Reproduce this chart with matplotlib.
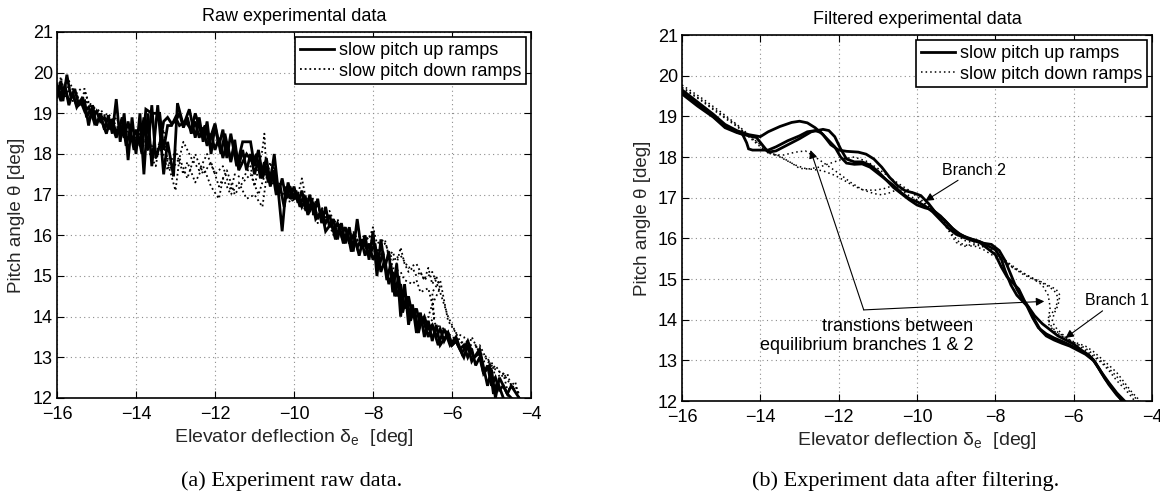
import matplotlib
matplotlib.use("Agg")
import matplotlib.pyplot as plt

plt.rcParams['font.family'] = ['Liberation Sans', 'DejaVu Sans']
plt.rcParams['mathtext.default'] = 'regular'
plt.rcParams['axes.unicode_minus'] = True

# ---------------- data: raw experiment (panel a) ----------------
raw_up1_x = [-16.0, -15.9, -15.85, -15.75, -15.65, -15.55, -15.45, -15.3, -15.2, -15.1, -15.0, -14.9, -14.8, -14.7,
             -14.6, -14.5, -14.4, -14.3, -14.2, -14.1, -14.0, -13.9, -13.8, -13.7, -13.6, -13.45, -13.3, -13.2,
             -13.05, -12.95, -12.8, -12.65, -12.5, -12.4, -12.3, -12.2, -12.1, -12.0, -11.9, -11.8, -11.7, -11.6,
             -11.45, -11.3, -11.1, -11.0, -10.9, -10.8, -10.7, -10.6, -10.5, -10.4, -10.3, -10.2, -10.1, -10.0,
             -9.9, -9.8, -9.7, -9.6, -9.5, -9.4, -9.3, -9.2, -9.1, -9.0, -8.9, -8.8, -8.7, -8.6, -8.5, -8.4, -8.3,
             -8.2, -8.1, -8.0, -7.9, -7.8, -7.7, -7.6, -7.5, -7.4, -7.3, -7.2, -7.1, -7.0, -6.9, -6.8, -6.7, -6.6,
             -6.5, -6.4, -6.3, -6.1, -6.0, -5.9, -5.7, -5.6, -5.5, -5.3, -5.1, -5.0, -4.9, -4.8, -4.6, -4.5, -4.3]
raw_up1_y = [19.4, 19.8, 19.3, 19.95, 19.4, 19.6, 19.2, 19.3, 18.7, 19.2, 18.7, 19.0, 18.6, 18.95,
             18.5, 19.35, 18.3, 19.0, 17.85, 18.9, 18.0, 19.0, 17.5, 19.0, 17.7, 19.2, 17.5, 18.3,
             17.45, 19.25, 18.7, 19.1, 18.4, 18.9, 18.3, 18.8, 18.0, 18.7, 18.2, 18.6, 17.9, 18.5,
             17.7, 18.3, 18.3, 17.7, 18.1, 17.5, 17.9, 17.3, 18.0, 17.1, 16.1, 17.2, 16.9, 17.2,
             16.8, 17.1, 16.6, 17.0, 16.5, 16.9, 16.3, 16.7, 16.2, 16.4, 15.9, 16.3, 15.8, 16.2, 15.6, 16.4, 15.7,
             16.0, 15.4, 16.1, 15.0, 15.9, 15.2, 15.6, 14.6, 15.3, 14.0, 14.8, 13.8, 14.3, 13.6, 14.1, 13.5, 13.9,
             13.4, 13.8, 13.3, 13.6, 13.3, 13.4, 13.0, 13.3, 12.9, 13.2, 12.3, 12.7, 12.0, 12.5, 12.1, 12.3, 12.0]

raw_up2_x = [-16.0, -15.9, -15.8, -15.7, -15.6, -15.5, -15.35, -15.25, -15.15, -15.05, -14.9, -14.75, -14.65,
             -14.5, -14.35, -14.25, -14.15, -14.05, -13.95, -13.85, -13.75, -13.6, -13.4, -13.3, -13.2, -13.1,
             -13.0, -12.9, -12.75, -12.6, -12.5, -12.35, -12.25, -12.15, -12.0, -11.85, -11.75, -11.6, -11.5,
             -11.4, -11.2, -11.05, -10.95, -10.85, -10.75, -10.65, -10.55, -10.45, -10.35, -10.25, -10.15,
             -10.05, -9.95, -9.85, -9.75, -9.65, -9.55, -9.45, -9.3, -9.2, -9.05, -8.95, -8.85, -8.75, -8.65,
             -8.55, -8.45, -8.35, -8.25, -8.1, -7.95, -7.85, -7.75, -7.65, -7.55, -7.45, -7.35, -7.25, -7.15,
             -7.05, -6.95, -6.85, -6.75, -6.6, -6.5, -6.35, -6.2, -6.05, -5.9, -5.75, -5.6, -5.45, -5.3, -5.2,
             -5.05, -4.95, -4.85, -4.7]
raw_up2_y = [19.6, 19.3, 19.7, 19.2, 19.5, 19.15, 19.4, 18.9, 19.1, 18.75, 18.9, 18.5, 18.85,
             18.4, 18.9, 18.2, 18.6, 18.1, 18.5, 18.0, 19.1, 19.0, 19.0, 18.1, 18.7, 18.7,
             18.9, 18.7, 18.8, 18.6, 19.0, 18.5, 18.7, 18.3, 18.75, 18.0, 18.5, 17.8, 18.35,
             17.6, 18.0, 17.8, 18.0, 17.4, 17.8, 17.3, 17.6, 17.0, 17.2, 16.7, 17.3,
             16.9, 17.1, 16.7, 17.0, 16.5, 16.9, 16.4, 16.6, 16.1, 16.3, 15.9, 16.2, 15.8, 16.1,
             15.6, 15.9, 15.5, 15.9, 15.5, 15.8, 15.2, 15.6, 14.9, 15.3, 14.5, 15.0, 14.1, 14.5,
             13.9, 14.2, 13.6, 14.0, 13.5, 13.8, 13.3, 13.7, 13.3, 13.5, 13.1, 13.4, 13.0, 13.1, 12.6,
             12.8, 12.1, 12.4, 12.0]

raw_up3_x = [-16.0, -15.9, -15.8, -15.7, -15.6, -15.5, -15.4, -15.3, -15.2, -15.1,
             -15.0, -14.9, -14.8, -14.7, -14.6, -14.5, -14.4, -14.3, -14.2, -14.1,
             -14.0, -13.9, -13.8, -13.7, -13.6, -13.5, -13.4, -13.3, -13.2, -13.1,
             -13.0, -12.9, -12.8, -12.7, -12.6, -12.5, -12.4, -12.3, -12.2, -12.1,
             -12.0, -11.9, -11.8, -11.7, -11.6, -11.5, -11.4, -11.3, -11.2, -11.1,
             -11.0, -10.9, -10.8, -10.7, -10.6, -10.5, -10.4, -10.3, -10.2, -10.1,
             -10.0, -9.9, -9.8, -9.7, -9.6, -9.5, -9.4, -9.3, -9.2, -9.1,
             -9.0, -8.9, -8.8, -8.7, -8.6, -8.5, -8.4, -8.3, -8.2, -8.1,
             -8.0, -7.9, -7.8, -7.7, -7.6, -7.5, -7.4, -7.3, -7.2, -7.1,
             -7.0, -6.9, -6.8, -6.7, -6.6, -6.5, -6.4, -6.3, -6.2, -6.1,
             -6.0, -5.9, -5.8, -5.7, -5.6, -5.5, -5.4, -5.3, -5.2, -5.1,
             -5.0, -4.9, -4.8, -4.7, -4.6, -4.5]
raw_up3_y = [19.7, 19.45, 19.6, 19.3, 19.45, 19.2, 19.3, 19.05, 19.15, 18.9,
             19.05, 18.8, 18.9, 18.6, 18.85, 18.5, 18.7, 18.4, 18.8, 18.3,
             18.6, 18.2, 18.9, 18.1, 19.2, 17.9, 18.2, 18.8, 18.9, 18.75,
             18.8, 19.0, 18.65, 18.9, 18.5, 18.8, 18.4, 18.65, 18.2, 18.5,
             18.1, 18.4, 17.9, 18.3, 17.85, 18.2, 17.7, 18.1, 17.6, 18.0,
             17.5, 17.85, 17.4, 17.7, 17.2, 17.6, 17.0, 17.4, 16.9, 17.2,
             16.9, 17.0, 16.7, 16.9, 16.6, 16.8, 16.4, 16.6, 16.3, 16.5,
             16.1, 16.3, 16.0, 16.2, 15.8, 16.0, 15.7, 15.9, 15.5, 15.8,
             15.4, 15.6, 15.1, 15.4, 14.8, 15.1, 14.5, 14.8, 14.2, 14.5,
             14.0, 14.2, 13.8, 14.0, 13.7, 13.8, 13.5, 13.7, 13.4, 13.6,
             13.3, 13.4, 13.2, 13.3, 13.0, 13.2, 12.8, 13.0, 12.6, 12.8,
             12.3, 12.5, 12.2, 12.3, 12.1, 12.0]

raw_down1_x = [-16.0, -15.9, -15.8, -15.7, -15.6, -15.5, -15.4, -15.3, -15.2, -15.0, -14.8, -14.6, -14.5, -14.3,
               -14.1, -13.9, -13.7, -13.5, -13.3, -13.2, -13.0, -12.9, -12.8, -12.6, -12.4, -12.2, -12.0, -11.8,
               -11.6, -11.5, -11.3, -11.1, -11.0, -10.8, -10.75, -10.7, -10.6, -10.5, -10.4, -10.3, -10.1, -9.9,
               -9.8, -9.7, -9.5, -9.3, -9.1, -8.9, -8.7, -8.5, -8.3, -8.1, -8.0, -7.9, -7.7, -7.6, -7.5, -7.4,
               -7.3, -7.2, -7.1, -7.0, -6.9, -6.8, -6.7, -6.6, -6.5, -6.4, -6.3, -6.4, -6.5, -6.6, -6.4, -6.2,
               -6.0, -5.8, -5.6, -5.5, -5.3, -5.1, -5.0, -4.9, -4.7, -4.6, -4.5, -4.4, -4.3]
raw_down1_y = [19.5, 19.9, 19.4, 19.7, 19.3, 19.5, 19.6, 19.6, 19.2, 19.1, 18.9, 18.7, 18.9, 18.5,
               18.6, 18.3, 18.4, 18.0, 18.6, 17.8, 17.1, 17.9, 18.3, 17.9, 17.6, 18.0, 17.5, 17.7,
               17.1, 17.5, 17.4, 17.7, 17.2, 18.1, 18.5, 17.6, 17.4, 17.7, 17.2, 17.0, 17.2, 17.0,
               17.4, 16.9, 16.9, 16.5, 16.6, 16.1, 16.2, 15.9, 16.0, 15.9, 16.2, 15.8, 15.9, 15.5, 15.6, 15.3,
               15.7, 15.3, 15.1, 15.2, 15.0, 15.1, 14.9, 15.2, 14.8, 15.0, 14.7, 14.5, 14.3, 14.0, 13.8, 13.7,
               13.5, 13.4, 13.2, 13.5, 13.1, 13.0, 12.7, 12.8, 12.5, 12.6, 12.3, 12.4, 12.0]

raw_down2_x = [-16.0, -15.8, -15.6, -15.4, -15.3, -15.1, -14.9, -14.7, -14.5, -14.3, -14.1, -13.9, -13.7, -13.5,
               -13.4, -13.2, -13.0, -12.8, -12.7, -12.5, -12.3, -12.1, -11.9, -11.8, -11.6, -11.4, -11.2, -11.0,
               -10.8, -10.7, -10.6, -10.5, -10.3, -10.1, -9.9, -9.7, -9.5, -9.4, -9.2, -9.0, -8.8, -8.6, -8.4,
               -8.2, -8.0, -7.8, -7.6, -7.5, -7.3, -7.2, -7.0, -6.9, -6.8, -6.6, -6.5, -6.45, -6.5, -6.3, -6.2,
               -6.1, -5.9, -5.8, -5.6, -5.4, -5.2, -5.0, -4.9, -4.7, -4.6, -4.4, -4.3]
raw_down2_y = [19.7, 19.5, 19.6, 19.3, 19.55, 19.0, 19.1, 18.8, 18.6, 18.7, 18.3, 18.5, 18.1, 17.7,
               18.3, 17.6, 18.1, 17.5, 17.8, 17.3, 17.7, 17.2, 16.9, 17.4, 17.0, 17.3, 16.9, 17.0,
               16.7, 17.4, 17.8, 17.3, 17.0, 16.9, 16.9, 16.6, 16.7, 16.3, 16.5, 16.0, 16.1, 15.8, 15.9,
               15.7, 15.8, 15.5, 15.6, 15.2, 15.1, 14.9, 14.8, 14.9, 14.6, 14.7, 14.3, 13.9, 14.6, 14.9, 14.4,
               13.9, 13.6, 13.4, 13.3, 13.3, 12.9, 12.9, 12.5, 12.6, 12.2, 12.3, 12.1]

raw_down3_x = [-16.0, -15.7, -15.5, -15.3, -15.1, -14.9, -14.7, -14.5, -14.3, -14.1,
               -13.9, -13.7, -13.5, -13.3, -13.1, -12.9, -12.7, -12.5, -12.3, -12.1,
               -11.9, -11.7, -11.5, -11.3, -11.1, -10.9, -10.7, -10.5, -10.3, -10.1,
               -9.9, -9.7, -9.5, -9.3, -9.1, -8.9, -8.7, -8.5, -8.3, -8.1,
               -7.9, -7.7, -7.5, -7.3, -7.1, -6.9, -6.7, -6.5, -6.3, -6.1,
               -5.9, -5.7, -5.5, -5.3, -5.1, -4.9, -4.7, -4.5, -4.3]
raw_down3_y = [19.6, 19.8, 19.4, 19.3, 19.2, 18.9, 19.0, 18.7, 18.4, 18.6,
               18.2, 18.4, 17.9, 18.2, 17.6, 17.9, 17.4, 18.0, 17.5, 17.8,
               17.2, 17.6, 17.0, 17.3, 17.5, 17.0, 17.6, 17.2, 17.3, 16.8,
               17.0, 16.7, 16.5, 16.7, 16.2, 16.4, 15.9, 16.1, 15.7, 16.0,
               15.6, 15.8, 15.4, 15.5, 15.2, 15.3, 14.9, 15.1, 14.6, 14.0,
               13.6, 13.5, 13.2, 13.3, 12.9, 12.7, 12.6, 12.3, 12.1]

# ---------------- data: filtered experiment (panel b) ----------------
filt_up1_x = [-16.0, -15.6, -15.2, -14.9, -14.6, -14.3, -14.0, -13.8, -13.5, -13.2, -13.0, -12.8, -12.6, -12.4,
              -12.2, -12.0, -11.8, -11.5, -11.3, -11.1, -10.9, -10.7, -10.5, -10.3, -10.1, -9.9, -9.7, -9.5,
              -9.3, -9.1, -8.9, -8.7, -8.5, -8.3, -8.1, -7.9, -7.75, -7.6, -7.45, -7.3, -7.2, -7.0, -6.8, -6.6,
              -6.4, -6.2, -6.0, -5.8, -5.6, -5.45, -5.3, -5.1, -4.9, -4.75]
filt_up1_y = [19.65, 19.35, 19.05, 18.8, 18.65, 18.55, 18.5, 18.62, 18.75, 18.85, 18.88, 18.84, 18.72, 18.55,
              18.3, 18.17, 18.14, 18.12, 18.07, 17.95, 17.75, 17.5, 17.3, 17.17, 17.12, 17.05, 16.85, 16.6,
              16.45, 16.25, 16.1, 16.0, 15.95, 15.88, 15.85, 15.7, 15.45, 15.1, 14.75, 14.5, 14.38, 14.1, 13.9, 13.75,
              13.6, 13.5, 13.4, 13.25, 13.12, 12.95, 12.7, 12.4, 12.15, 12.0]

filt_up2_x = [-16.0, -15.6, -15.2, -14.9, -14.6, -14.45, -14.35, -14.3, -14.2, -14.0, -13.8, -13.6, -13.3, -13.0,
              -12.8, -12.6, -12.45, -12.3, -12.1, -11.95, -11.8, -11.6, -11.4, -11.2, -11.0, -10.8, -10.6, -10.4,
              -10.2, -10.0, -9.8, -9.6, -9.4, -9.2, -9.0, -8.8, -8.6, -8.4, -8.2, -8.0, -7.85, -7.7, -7.55, -7.4,
              -7.2, -7.05, -6.9, -6.7, -6.5, -6.3, -6.1, -5.9, -5.7, -5.5, -5.35, -5.2, -5.0, -4.8, -4.75]
filt_up2_y = [19.6, 19.3, 19.0, 18.75, 18.62, 18.55, 18.35, 18.2, 18.17, 18.17, 18.17, 18.25, 18.4, 18.52,
              18.62, 18.65, 18.6, 18.45, 18.25, 18.0, 17.85, 17.82, 17.83, 17.75, 17.6, 17.45, 17.3, 17.12,
              16.98, 16.9, 16.8, 16.65, 16.45, 16.25, 16.1, 16.02, 15.95, 15.9, 15.75, 15.6, 15.3, 15.05, 14.9, 14.75,
              14.35, 14.05, 13.8, 13.65, 13.55, 13.47, 13.38, 13.28, 13.18, 13.02, 12.8, 12.55, 12.3, 12.05, 12.0]

filt_up3_x = [-16.0, -15.6, -15.2, -14.9, -14.6, -14.3, -14.1, -13.95, -13.8, -13.6, -13.3, -13.0, -12.7, -12.4,
              -12.25, -12.1, -11.95, -11.8, -11.6, -11.4, -11.2, -11.0, -10.8, -10.6, -10.4, -10.2, -10.0, -9.8,
              -9.6, -9.4, -9.2, -9.0, -8.8, -8.6, -8.4, -8.2, -8.0, -7.85, -7.75, -7.6, -7.45, -7.3, -7.15, -7.0,
              -6.85, -6.7, -6.5, -6.3, -6.1, -5.9, -5.7, -5.5, -5.3, -5.1, -4.9, -4.7]
filt_up3_y = [19.55, 19.25, 18.98, 18.72, 18.6, 18.52, 18.48, 18.3, 18.12, 18.15, 18.3, 18.45, 18.62, 18.68,
              18.65, 18.5, 18.2, 17.95, 17.88, 17.88, 17.8, 17.65, 17.45, 17.25, 17.1, 16.95, 16.82, 16.75,
              16.7, 16.55, 16.35, 16.15, 16.05, 15.98, 15.92, 15.82, 15.72, 15.5, 15.2, 14.85, 14.6, 14.45, 14.3, 14.0,
              13.75, 13.6, 13.5, 13.42, 13.35, 13.25, 13.15, 13.0, 12.72, 12.45, 12.2, 12.0]

filt_down1_x = [-16.0, -15.5, -15.0, -14.6, -14.3, -14.0, -13.8, -13.5, -13.2, -13.0, -12.7, -12.4, -12.1, -11.85,
                -11.6, -11.4, -11.1, -10.85, -10.6, -10.4, -10.2, -10.0, -9.8, -9.6, -9.4, -9.2, -9.0, -8.8, -8.6,
                -8.4, -8.2, -8.0, -7.8, -7.6, -7.4, -7.2, -7.0, -6.8, -6.6, -6.45, -6.35, -6.4, -6.5, -6.55, -6.45,
                -6.3, -6.1, -5.9, -5.7, -5.5, -5.3, -5.1, -4.9, -4.7, -4.5, -4.45]
filt_down1_y = [19.77, 19.45, 19.1, 18.8, 18.55, 18.3, 18.12, 18.02, 17.85, 17.72, 17.7, 17.66, 17.55, 17.42,
                17.28, 17.2, 17.18, 17.22, 17.3, 17.18, 17.05, 16.95, 16.85, 16.7, 16.5, 16.3, 16.1, 15.95, 15.9,
                15.85, 15.75, 15.62, 15.45, 15.3, 15.2, 15.1, 15.0, 14.92, 14.82, 14.75, 14.6, 14.35, 14.15, 13.95, 13.8,
                13.65, 13.5, 13.38, 13.25, 13.1, 12.95, 12.75, 12.5, 12.3, 12.08, 12.0]

filt_down2_x = [-16.0, -15.5, -15.0, -14.6, -14.3, -14.0, -13.7, -13.4, -13.1, -12.85, -12.6, -12.3, -12.0, -11.7,
                -11.4, -11.1, -10.9, -10.7, -10.5, -10.3, -10.1, -9.9, -9.7, -9.5, -9.3, -9.1, -8.9, -8.7, -8.5,
                -8.3, -8.1, -7.9, -7.7, -7.5, -7.3, -7.1, -6.9, -6.7, -6.5, -6.4, -6.45, -6.6, -6.65, -6.5, -6.3,
                -6.1, -5.9, -5.7, -5.5, -5.3, -5.1, -4.9, -4.7, -4.5, -4.35]
filt_down2_y = [19.72, 19.4, 19.05, 18.78, 18.5, 18.25, 18.05, 18.05, 18.12, 18.15, 18.0, 17.8, 17.6, 17.38,
                17.2, 17.1, 17.07, 17.12, 17.2, 17.2, 17.1, 16.95, 16.8, 16.6, 16.35, 16.1, 15.88, 15.82, 15.8,
                15.72, 15.6, 15.5, 15.4, 15.25, 15.12, 15.02, 14.95, 14.85, 14.72, 14.55, 14.3, 14.1, 13.9, 13.72, 13.6,
                13.48, 13.4, 13.3, 13.15, 12.98, 12.8, 12.6, 12.38, 12.15, 12.0]

filt_down3_x = [-16.0, -15.5, -15.0, -14.6, -14.3, -14.0, -13.7, -13.4, -13.1, -12.8, -12.5, -12.2, -11.9, -11.6,
                -11.3, -11.0, -10.7, -10.4, -10.1, -9.8, -9.5, -9.2, -9.0, -8.8, -8.6, -8.4, -8.2, -8.0, -7.8,
                -7.6, -7.4, -7.2, -7.0, -6.8, -6.65, -6.6, -6.65, -6.55, -6.35, -6.1, -5.9, -5.7, -5.5, -5.3,
                -5.1, -4.9, -4.7, -4.5, -4.3]
filt_down3_y = [19.7, 19.38, 19.02, 18.75, 18.52, 18.3, 18.1, 17.95, 17.8, 17.7, 17.75, 17.85, 17.95, 18.0,
                17.9, 17.72, 17.5, 17.3, 17.12, 16.95, 16.62, 16.2, 15.9, 15.8, 15.85, 15.82, 15.75, 15.68, 15.5,
                15.35, 15.22, 15.1, 14.98, 14.85, 14.6, 14.3, 14.0, 13.8, 13.65, 13.5, 13.42, 13.35, 13.22, 13.05,
                12.88, 12.7, 12.45, 12.2, 12.0]

x_ticks = [-16, -14, -12, -10, -8, -6, -4]
y_ticks = [12, 13, 14, 15, 16, 17, 18, 19, 20, 21]
legend_labels = ['slow pitch up ramps', 'slow pitch down ramps']
titles = ['Raw experimental data', 'Filtered experimental data']
captions = ['(a) Experiment raw data.', '(b) Experiment data after filtering.']

# ---------------- figure ----------------
fig = plt.figure(figsize=(11.6, 4.95), dpi=100)
ax1 = fig.add_axes([57 / 1160, 1 - 398 / 495, 474 / 1160, 366 / 495])
ax2 = fig.add_axes([682 / 1160, 1 - 401 / 495, 470 / 1160, 366 / 495])

solid_kw = dict(color='black', lw=2.0, solid_joinstyle='miter')
dot_kw = dict(color='black', lw=1.1, linestyle=(0, (1, 2)))
rawdot_kw = dict(color='black', lw=1.3, linestyle=(0, (1, 1.6)))

# panel a
l_up, = ax1.plot(raw_up1_x, raw_up1_y, **solid_kw)
ax1.plot(raw_up2_x, raw_up2_y, **solid_kw)
ax1.plot(raw_up3_x, raw_up3_y, **solid_kw)
l_dn, = ax1.plot(raw_down1_x, raw_down1_y, **rawdot_kw)
ax1.plot(raw_down2_x, raw_down2_y, **rawdot_kw)
ax1.plot(raw_down3_x, raw_down3_y, **rawdot_kw)

# panel b
f_up, = ax2.plot(filt_up1_x, filt_up1_y, **solid_kw)
ax2.plot(filt_up2_x, filt_up2_y, **solid_kw)
ax2.plot(filt_up3_x, filt_up3_y, **solid_kw)
f_dn, = ax2.plot(filt_down1_x, filt_down1_y, **dot_kw)
ax2.plot(filt_down2_x, filt_down2_y, **dot_kw)
ax2.plot(filt_down3_x, filt_down3_y, **dot_kw)

for ax, title, hu, hd in [(ax1, titles[0], l_up, l_dn), (ax2, titles[1], f_up, f_dn)]:
    ax.set_xlim(-16, -4)
    ax.set_ylim(12, 21)
    ax.set_xticks(x_ticks)
    ax.set_yticks(y_ticks)
    ax.grid(True, color='0.55', linestyle=(0, (1, 3)), lw=0.8)
    ax.tick_params(axis='x', pad=6)
    ax.tick_params(axis='y', pad=3)
    ax.tick_params(direction='in', length=5, width=0.8, top=True, right=True,
                   labelsize=13)
    for sp in ax.spines.values():
        sp.set_linewidth(1.2)
    ax.set_title(title, fontsize=13, pad=8)
    ax.set_xlabel('Elevator deflection δ$_\\mathregular{e}$  [deg]', fontsize=14, color='0.15')
    ax.set_ylabel('Pitch angle θ [deg]', fontsize=13.5, color='0.15')
    ax.xaxis.label.set_va('center')
    ax.yaxis.label.set_va('center')
    ax.xaxis.set_label_coords(0.5, -0.108)
    ax.yaxis.set_label_coords(-0.085, 0.5)
    leg = ax.legend([hu, hd], legend_labels, loc='upper right', fontsize=13,
                    handlelength=1.9, handletextpad=0.25, borderpad=0.25,
                    labelspacing=0.2, borderaxespad=0.3, fancybox=False,
                    framealpha=1, edgecolor='black')
    leg.get_frame().set_linewidth(1.2)

# annotations on panel b
arrow_kw = dict(arrowstyle='-|>', color='black', lw=0.8, mutation_scale=12, shrinkA=0, shrinkB=0)
ax2.annotate('Branch 2', xy=(-9.79, 16.92), xytext=(-9.35, 17.68), fontsize=11.5,
             ha='left', va='center', arrowprops=arrow_kw)
ax2.annotate('Branch 1', xy=(-6.21, 13.55), xytext=(-5.72, 14.47), fontsize=11.5,
             ha='left', va='center', arrowprops=arrow_kw)
ax2.annotate('', xy=(-12.72, 18.17), xytext=(-11.36, 14.24), arrowprops=arrow_kw)
ax2.annotate('', xy=(-6.75, 14.45), xytext=(-11.36, 14.24), arrowprops=arrow_kw)
ax2.text(-8.57, 13.59, 'transtions between\nequilibrium branches 1 & 2', fontsize=13,
         ha='right', va='center', multialignment='right', linespacing=1.15)

# captions
fig.text(292 / 1160, 1 - 481 / 495, captions[0], fontsize=16, family='Liberation Serif',
         ha='center', va='center')
fig.text(906 / 1160, 1 - 481 / 495, captions[1], fontsize=16, family='Liberation Serif',
         ha='center', va='center')

fig.savefig('out.png', dpi=100)
